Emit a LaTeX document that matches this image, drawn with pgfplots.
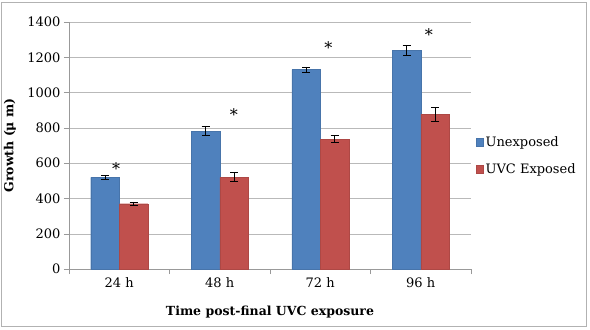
\documentclass[border=0pt]{standalone}
\usepackage{pgfplots}
\pgfplotsset{compat=1.18}
\usepackage{fontspec}
\setmainfont{DejaVu Serif}
\definecolor{cblue}{HTML}{4F81BD}
\definecolor{cred}{HTML}{C0504D}
\begin{document}
\begin{tikzpicture}
\begin{axis}[
  scale only axis, width=402pt, height=247pt,
  xmin=-0.5, xmax=3.5, ymin=0, ymax=1400,
  ytick={0,200,...,1400},
  xtick={0,1,2,3}, xticklabels={24 h,48 h,72 h,96 h},
  major x tick style={draw=none},
  minor xtick={-0.5,0.5,1.5,2.5,3.5},
  minor x tick style={gray!80},
  major y tick style={gray!80},
  major tick length=5pt, minor tick length=5pt,
  tick align=outside,
  axis x line*=bottom, axis y line*=left,
  axis line style={gray!80},
  ymajorgrids, grid style={gray!55},
  /pgf/number format/assume math mode=true,
  /pgf/number format/1000 sep={},
  ticklabel style={font=\fontsize{13}{15}\selectfont},
  xlabel={\textbf{Time post-final UVC exposure}},
  ylabel={\textbf{Growth (μ m)}},
  label style={font=\fontsize{12.5}{15}\selectfont},
  xlabel style={at={(axis description cs:0.5,-0.174)}, anchor=center},
  ylabel style={at={(axis description cs:-0.147,0.5)}, anchor=center},
  legend style={at={(axis description cs:1,0.4595)}, anchor=west, xshift=5pt,
    draw=none, fill=none, font=\fontsize{13}{15}\selectfont,
    row sep=12pt, inner sep=0pt},
  legend cell align=left,
  legend image code/.code={\fill[#1] (0pt,-4pt) rectangle (7pt,4pt);},
]
\addplot[ybar, bar width=28.5pt, bar shift=0pt, fill=cblue, draw=cblue!90!black,
  error bars/.cd, y dir=both, y explicit,
  error mark options={black, rotate=90, mark size=4pt, line width=0.8pt},
  error bar style={black, line width=0.8pt}]
  coordinates {(-0.1418,520) +- (0,11) (0.8582,781) +- (0,26) (1.8582,1130) +- (0,15) (2.8582,1238) +- (0,27)};
\addlegendentry{Unexposed}
\addplot[ybar, bar width=28.5pt, bar shift=0pt, fill=cred, draw=cred!90!black,
  error bars/.cd, y dir=both, y explicit,
  error mark options={black, rotate=90, mark size=4pt, line width=0.8pt},
  error bar style={black, line width=0.8pt}]
  coordinates {(0.1418,370) +- (0,10) (1.1418,520) +- (0,25) (2.1418,736) +- (0,21) (3.1418,877) +- (0,38)};
\addlegendentry{UVC Exposed}
\addplot[only marks, mark=text, text mark={\fontsize{16}{18}\selectfont *}, forget plot]
  coordinates {(-0.03,568) (1.14,874) (2.08,1256) (3.08,1329)};
\end{axis}
\draw[gray!60, line width=1pt] ([xshift=-67pt,yshift=-57pt]current axis.south west) rectangle ([xshift=115pt,yshift=19pt]current axis.north east);
\useasboundingbox ([xshift=-69pt,yshift=-60pt]current axis.south west) rectangle ([xshift=119pt,yshift=22pt]current axis.north east);
\end{tikzpicture}
\end{document}
